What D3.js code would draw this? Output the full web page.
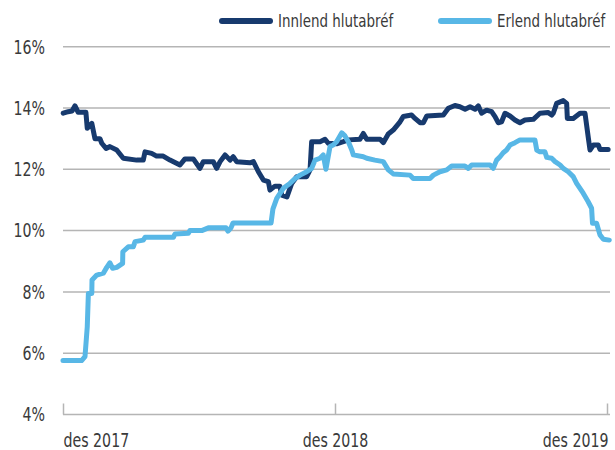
<!DOCTYPE html>
<html>
<head>
<meta charset="utf-8">
<script src="https://cdn.jsdelivr.net/npm/d3@7"></script>
<style>
  html, body { margin: 0; padding: 0; background: #fff; }
  svg { display: block; }
  text { font-family: "Liberation Sans Narrow", "DejaVu Sans Condensed", "DejaVu Sans", sans-serif; fill: #3a3a3a; }
</style>
</head>
<body>
<svg id="chart" width="615" height="450"></svg>
<script>
// x values: months since "des 2017"
const seriesNames = ["Innlend hlutabréf", "Erlend hlutabréf"];
const xTickValues = [0, 12, 24];
const xTickLabels = ["des 2017", "des 2018", "des 2019"];
const yTickValues = [4, 6, 8, 10, 12, 14, 16];

const innlendMonths = [0.01,0.23,0.40,0.53,0.67,1.01,1.07,1.27,1.41,1.63,1.71,1.90,2.07,2.37,2.66,3.25,3.54,3.62,3.91,4.13,4.42,4.72,5.16,5.38,5.75,6.04,6.19,6.63,6.78,6.93,7.15,7.37,7.51,7.66,8.25,8.40,8.62,8.84,9.06,9.13,9.35,9.57,9.65,9.88,10.09,10.31,10.75,10.90,10.97,11.34,11.56,11.70,12.07,12.37,12.59,13.10,13.25,13.40,13.99,14.13,14.35,14.57,14.87,15.01,15.38,15.53,15.75,15.90,16.05,16.78,17.00,17.29,17.51,17.74,17.96,18.18,18.32,18.47,18.69,18.91,19.06,19.20,19.35,19.50,19.72,19.94,20.16,20.38,20.75,21.04,21.41,21.56,21.63,21.78,22.07,22.22,22.25,22.51,22.81,23.03,23.17,23.25,23.40,23.62,23.69,24.05];
const innlendValues = [13.83,13.88,13.90,14.07,13.86,13.86,13.34,13.50,13.00,13.00,12.85,12.68,12.74,12.63,12.36,12.30,12.30,12.57,12.52,12.43,12.43,12.30,12.14,12.34,12.34,12.03,12.25,12.25,12.03,12.25,12.47,12.30,12.41,12.25,12.21,12.25,11.92,11.65,11.60,11.32,11.45,11.45,11.16,11.10,11.54,11.76,11.76,11.98,12.90,12.90,12.98,12.85,12.83,12.90,12.96,12.98,13.17,12.98,12.98,12.87,13.15,13.28,13.55,13.72,13.77,13.66,13.52,13.52,13.74,13.77,13.99,14.08,14.04,13.96,14.04,13.96,14.07,13.83,13.93,13.88,13.72,13.52,13.55,13.83,13.74,13.61,13.52,13.61,13.63,13.83,13.85,13.77,13.83,14.15,14.24,14.15,13.66,13.66,13.83,13.83,13.06,12.63,12.79,12.79,12.65,12.65];

const erlendMonths = [0,0.82,0.97,1.07,1.12,1.27,1.28,1.49,1.78,1.93,2.07,2.19,2.37,2.63,2.64,2.88,3.10,3.18,3.54,3.62,4.87,4.94,5.53,5.60,6.12,6.41,7.19,7.28,7.41,7.50,9.18,9.26,9.43,9.72,10.01,10.24,10.46,10.75,10.97,11.12,11.34,11.48,11.60,11.78,11.92,12.07,12.30,12.44,12.59,12.74,12.81,13.25,13.40,13.76,14.13,14.35,14.57,15.31,15.45,16.19,16.34,16.63,16.93,17.15,17.73,17.88,18.03,18.84,18.98,19.13,19.28,19.42,19.57,19.72,19.94,20.16,20.82,20.90,21.04,21.26,21.34,21.56,21.71,21.93,22.07,22.29,22.51,22.66,22.95,23.17,23.32,23.36,23.54,23.69,23.84,24.1];
const erlendValues = [5.76,5.76,5.89,6.86,7.95,7.95,8.39,8.55,8.61,8.80,8.95,8.77,8.80,8.93,9.31,9.47,9.47,9.64,9.69,9.78,9.78,9.89,9.91,10.00,10.00,10.09,10.09,9.98,10.09,10.25,10.25,10.70,11.05,11.38,11.54,11.70,11.81,11.92,12.03,12.30,12.36,12.47,12.00,12.74,12.79,12.90,13.19,13.09,12.90,12.63,12.47,12.41,12.36,12.30,12.25,11.98,11.85,11.81,11.70,11.70,11.81,11.92,11.98,12.11,12.11,12.03,12.14,12.14,12.03,12.30,12.41,12.54,12.63,12.79,12.87,12.96,12.96,12.63,12.57,12.57,12.39,12.36,12.25,12.14,12.03,11.92,11.76,11.54,11.22,10.94,10.73,10.24,10.24,9.86,9.72,9.69];

const colors = ["#173a6e", "#58b7e6"];
const sx = 0.83; // horizontal condensing of text

const svg = d3.select("#chart");
const x = d3.scaleLinear().domain([0, 24]).range([63, 607]);
const y = d3.scaleLinear().domain([4, 16]).range([414.5, 46.7]);

// gridlines
svg.append("g")
  .selectAll("line")
  .data(yTickValues.filter(v => v > 4))
  .join("line")
  .attr("x1", 63).attr("x2", 610)
  .attr("y1", d => y(d)).attr("y2", d => y(d))
  .attr("stroke", "#b5b5b5").attr("stroke-width", 1.5);

// y labels
svg.append("g")
  .selectAll("text")
  .data(yTickValues)
  .join("text")
  .attr("transform", d => `translate(45,${y(d)}) scale(${sx},1)`)
  .attr("dy", "0.36em")
  .attr("text-anchor", "end")
  .attr("font-size", 19)
  .text(d => d + "%");

// x axis
const xAxis = d3.axisBottom(x).tickValues(xTickValues).tickSize(0).tickFormat("");
const gx = svg.append("g").attr("transform", `translate(0,${y(4)})`).call(xAxis);
gx.select(".domain").attr("stroke", "#b5b5b5").attr("stroke-width", 1.5).attr("d", `M63,0H610`);
gx.selectAll(".tick").append("line")
  .attr("y1", 0).attr("y2", -11)
  .attr("stroke", "#b5b5b5").attr("stroke-width", 1.5);
gx.selectAll(".tick").append("text")
  .attr("transform", (d, i) => `translate(${i === xTickValues.length - 1 ? 1 : 0},32) scale(${sx},1)`)
  .attr("y", 0)
  .attr("text-anchor", (d, i) => i === 0 ? "start" : (i === xTickValues.length - 1 ? "end" : "middle"))
  .attr("font-size", 19)
  .attr("fill", "#3a3a3a")
  .text((d, i) => xTickLabels[i]);

// lines
const line = d3.line().x(d => x(d[0])).y(d => y(d[1])).curve(d3.curveLinear);
const seriesData = [
  d3.zip(innlendMonths, innlendValues),
  d3.zip(erlendMonths, erlendValues)
];
svg.append("g")
  .selectAll("path")
  .data(seriesData)
  .join("path")
  .attr("d", line)
  .attr("fill", "none")
  .attr("stroke", (d, i) => colors[i])
  .attr("stroke-width", 5)
  .attr("stroke-linejoin", "round")
  .attr("stroke-linecap", "round");

// legend
const legendX = [222, 441];
const lg = svg.append("g").selectAll("g").data(seriesNames).join("g")
  .attr("transform", (d, i) => `translate(${legendX[i]},21)`);
lg.append("line")
  .attr("x1", 0).attr("x2", 48)
  .attr("stroke", (d, i) => colors[i])
  .attr("stroke-width", 6)
  .attr("stroke-linecap", "round");
lg.append("text")
  .attr("transform", `translate(56,0) scale(${sx},1)`)
  .attr("dy", "0.36em")
  .attr("font-size", 18)
  .text(d => d);
</script>
</body>
</html>
